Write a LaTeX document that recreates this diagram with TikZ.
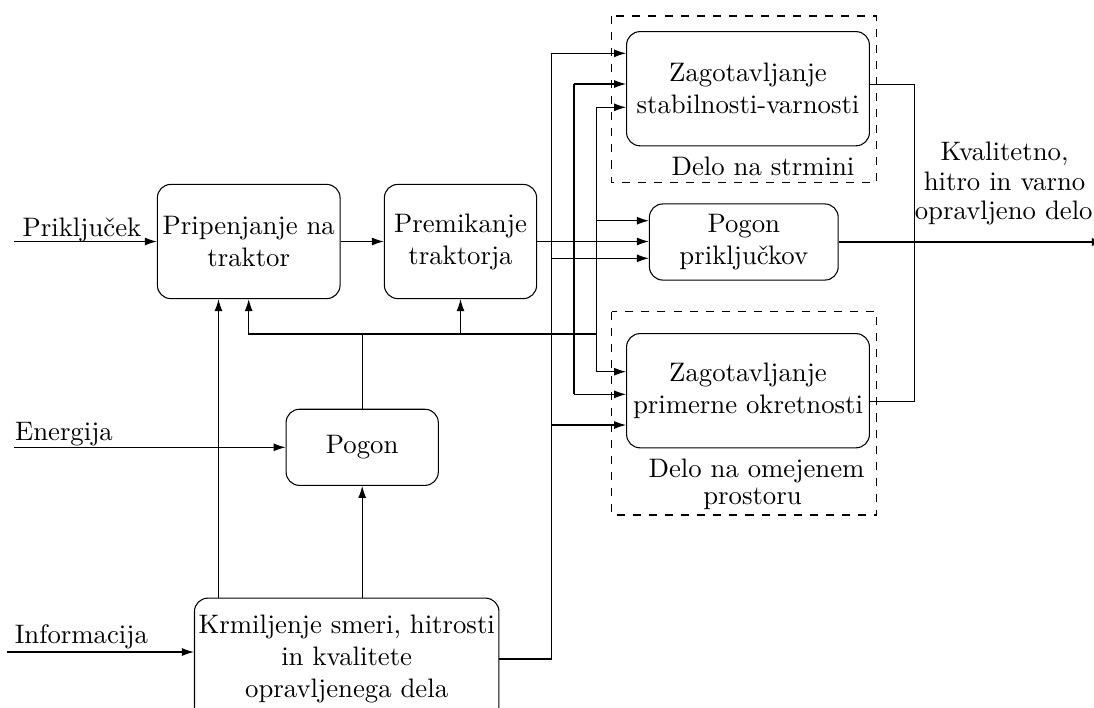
\documentclass[tikz,border=0pt]{standalone}
\usetikzlibrary{arrows.meta}
\begin{document}
\begin{tikzpicture}[x=0.013141cm, y=-0.013141cm,
  box/.style={draw, rounded corners=5pt, align=center, inner sep=1pt},
  arr/.style={-{Latex[length=4.5pt,width=3pt]}},
  grp/.style={draw, dashed},
  lbl/.style={inner sep=0pt, anchor=base}]
\useasboundingbox (0,0) rectangle (1094,707);

% nodes
\node[box, minimum width=2.4cm, minimum height=1.5cm] (prip) at (248.7,241.5) {Pripenjanje na\\traktor};
\node[box, minimum width=2cm, minimum height=1.5cm] (prem) at (460.5,241.5) {Premikanje\\traktorja};
\node[box, minimum width=2cm, minimum height=1cm] (pogon) at (362.2,447.3) {Pogon};
\node[box, minimum width=4cm, minimum height=1.6cm] (krm) at (346.7,659) {Krmiljenje smeri, hitrosti\\in kvalitete\\opravljenega dela};
\node[box, minimum width=3.19cm, minimum height=1.5cm] (stab) at (748,88.7) {Zagotavljanje\\stabilnosti-varnosti};
\node[box, minimum width=2.48cm, minimum height=1cm] (pp) at (743.8,242) {Pogon\\priključkov};
\node[box, minimum width=3.19cm, minimum height=1.5cm] (okr) at (748,390.7) {Zagotavljanje\\primerne okretnosti};

% groups
\draw[grp] (611.7,16) rectangle (876.7,182.7);
\draw[grp] (611.7,311.7) rectangle (876.7,515);

% labels
\node[lbl] (ls) at (763,175.7) {Delo na strmini};
\node[lbl] (lo1) at (756.5,477.7) {Delo na omejenem};
\node[lbl] (lo2) at (752.5,504.5) {prostoru};
\node[lbl] (lk1) at (1004.5,160) {Kvalitetno,};
\node[lbl] (lk2) at (1004.5,190) {hitro in varno};
\node[lbl] (lk3) at (1003.7,219.5) {opravljeno delo};
\node[lbl] (lpr) at (82,236) {Priključek};
\node[lbl, anchor=base west] (len) at (14.5,440) {Energija};
\node[lbl, anchor=base west] (lin) at (14.3,643.3) {Informacija};

% inputs
\coordinate (inP) at (14.3,241.5);
\coordinate (inE) at (14.3,447.3);
\coordinate (inI) at (7,652);
\draw[arr] (inP) -- (prip.west);
\draw[arr] (inE) -- (pogon.west);
\draw[arr] (inI) -- (krm.west |- inI);
\draw[arr] (prip.east) -- (prem.west);

% control and power
\coordinate (kp) at (218.5,0);
\draw[arr] (kp |- krm.north) -- (kp |- prip.south);
\draw[arr] (krm.north -| pogon.south) -- (pogon.south);
\coordinate (j) at (362.2,334);
\draw (pogon.north) -- (j);
\draw[arr] (j) -| (prip.south);
\draw[arr] (j -| prem.south) -- (prem.south);
\coordinate (c3) at (596.7,334);
\draw (j) -- (c3);

% vertical bus 1 (from control)
\coordinate (k1) at (551.7,659);
\draw (krm.east |- k1) -- (k1) -- (k1 |- 0,53.3);
\draw[arr] (k1 |- 0,53.3) -- (stab.west |- 0,53.3);
\draw[arr] (k1 |- 0,258.3) -- (pp.west |- 0,258.3);
\draw[arr] (k1 |- 0,425) -- (okr.west |- 0,425);

% vertical bus 2 (from movement)
\coordinate (v2) at (574,241.5);
\draw (v2 |- 0,84) -- (v2 |- 0,394.3);
\draw[arr] (prem.east) -- (pp.west |- prem.east);
\draw[arr] (v2 |- 0,84) -- (stab.west |- 0,84);
\draw[arr] (v2 |- 0,394.3) -- (okr.west |- 0,394.3);

% vertical bus 3 (from power)
\draw (c3 |- 0,107.3) -- (c3 |- 0,371.7);
\draw[arr] (c3 |- 0,107.3) -- (stab.west |- 0,107.3);
\draw[arr] (c3 |- 0,220.7) -- (pp.west |- 0,220.7);
\draw[arr] (c3 |- 0,371.7) -- (okr.west |- 0,371.7);

% outputs
\coordinate (o1) at (914.3,84.3);
\coordinate (o2) at (914.3,401.7);
\coordinate (out) at (1104,242);
\draw (stab.east |- o1) -- (o1) -- (o2) -- (okr.east |- o2);
\draw[arr] (pp.east) -- (out);
\end{tikzpicture}
\end{document}
